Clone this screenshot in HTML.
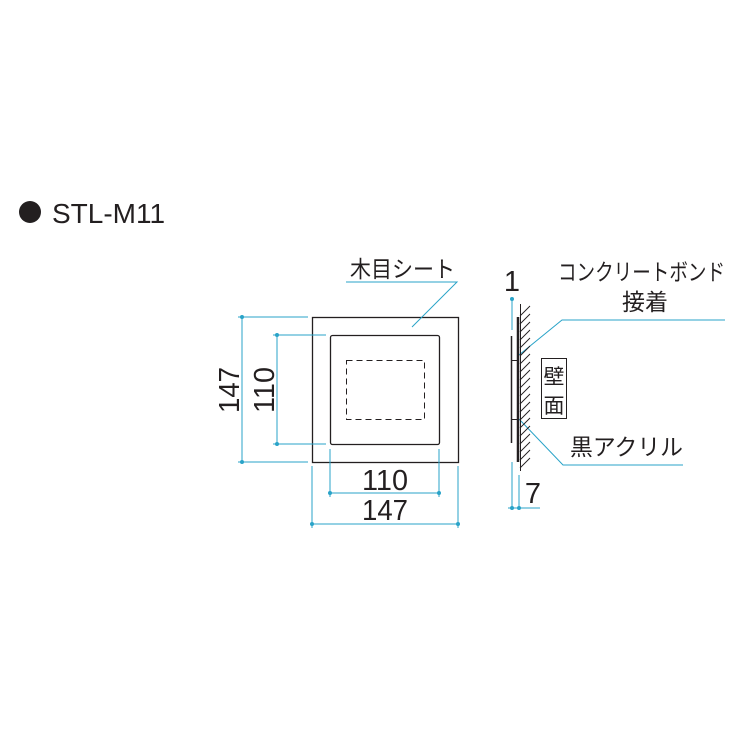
<!DOCTYPE html>
<html><head><meta charset="utf-8"><style>
body{margin:0;background:#fff}
svg text{font-family:"Liberation Sans","Noto Sans CJK JP",sans-serif;fill:#231f20}
</style></head><body>
<svg width="740" height="740" viewBox="0 0 740 740" xmlns="http://www.w3.org/2000/svg">
<circle cx="30" cy="212" r="11" fill="#231f20"/>
<text x="52" y="223" font-size="28">STL-M11</text>

<rect x="312.5" y="317.5" width="146" height="145" fill="none" stroke="#231f20" stroke-width="1.3"/>
<rect x="330.5" y="335.5" width="109" height="109" rx="2" fill="none" stroke="#231f20" stroke-width="1.3"/>
<rect x="346.5" y="360.5" width="78" height="59" fill="none" stroke="#231f20" stroke-width="1" stroke-dasharray="6,4"/>

<g stroke="#29a3c8" stroke-width="1" fill="none">
<polyline points="346,282 457,282 412,327"/>
<line x1="242" y1="317" x2="242" y2="462"/>
<line x1="238" y1="317" x2="308" y2="317"/>
<line x1="238" y1="462" x2="308" y2="462"/>
<line x1="277" y1="335" x2="277" y2="444"/>
<line x1="273" y1="335" x2="326" y2="335"/>
<line x1="273" y1="444" x2="326" y2="444"/>
<line x1="330" y1="493" x2="439" y2="493"/>
<line x1="330" y1="449" x2="330" y2="497"/>
<line x1="439" y1="449" x2="439" y2="497"/>
<line x1="312" y1="524" x2="458" y2="524"/>
<line x1="312" y1="466" x2="312" y2="528"/>
<line x1="458" y1="466" x2="458" y2="528"/>
<line x1="512" y1="299" x2="512" y2="330"/>
<line x1="512" y1="462" x2="512" y2="510"/>
<line x1="519" y1="475" x2="519" y2="510"/>
<line x1="508" y1="508" x2="540" y2="508"/>
<polyline points="519,355 562,320 725,320"/>
<polyline points="519,419 563,465 683,465"/>
</g>
<g fill="#29a3c8">
<circle cx="242" cy="317" r="2"/><circle cx="242" cy="462" r="2"/>
<circle cx="277" cy="335" r="2"/><circle cx="277" cy="444" r="2"/>
<circle cx="330" cy="493" r="2"/><circle cx="439" cy="493" r="2"/>
<circle cx="312" cy="524" r="2"/><circle cx="458" cy="524" r="2"/>
<circle cx="512" cy="299" r="2"/><circle cx="512" cy="508" r="2"/><circle cx="519" cy="508" r="2"/>
</g>

<text x="385" y="490" font-size="29" text-anchor="middle" textLength="46" lengthAdjust="spacingAndGlyphs">110</text>
<text x="385" y="520" font-size="29" text-anchor="middle" textLength="46" lengthAdjust="spacingAndGlyphs">147</text>
<text transform="translate(239,390) rotate(-90)" font-size="29" text-anchor="middle" textLength="46" lengthAdjust="spacingAndGlyphs">147</text>
<text transform="translate(274,390) rotate(-90)" font-size="29" text-anchor="middle" textLength="46" lengthAdjust="spacingAndGlyphs">110</text>
<text x="350" y="277" font-size="23" textLength="105" lengthAdjust="spacingAndGlyphs">木目シート</text>

<line x1="520.5" y1="304" x2="520.5" y2="471" stroke="#231f20" stroke-width="1"/>
<line x1="518" y1="317" x2="518" y2="462" stroke="#231f20" stroke-width="2.5"/>
<line x1="511.5" y1="336" x2="511.5" y2="443" stroke="#231f20" stroke-width="1.5"/>
<line x1="511" y1="360.5" x2="518" y2="360.5" stroke="#231f20" stroke-width="1"/>
<line x1="511" y1="419.5" x2="518" y2="419.5" stroke="#231f20" stroke-width="1"/>
<g stroke="#231f20" stroke-width="0.9">
<path d="M520,316l10,-10M520,324l10,-10M520,332l10,-10M520,340l10,-10M520,348l10,-10M520,356l10,-10M520,364l10,-10M520,372l10,-10M520,380l10,-10M520,388l10,-10M520,396l10,-10M520,404l10,-10M520,412l10,-10M520,420l10,-10M520,428l10,-10M520,436l10,-10M520,444l10,-10M520,452l10,-10M520,460l10,-10M520,468l10,-10"/>
</g>
<rect x="541.5" y="358.5" width="25" height="60" fill="#fff" stroke="#231f20" stroke-width="1"/>
<text x="554" y="384" font-size="21" text-anchor="middle">壁</text>
<text x="554" y="413" font-size="21" text-anchor="middle">面</text>

<text x="512" y="291" font-size="29" text-anchor="middle">1</text>
<text x="533" y="503" font-size="29" text-anchor="middle">7</text>
<text x="558" y="280" font-size="23" textLength="167" lengthAdjust="spacingAndGlyphs">コンクリートボンド</text>
<text x="645" y="310" font-size="23" text-anchor="middle">接着</text>
<text x="570" y="455" font-size="23" textLength="113" lengthAdjust="spacingAndGlyphs">黒アクリル</text>
</svg>
</body></html>
